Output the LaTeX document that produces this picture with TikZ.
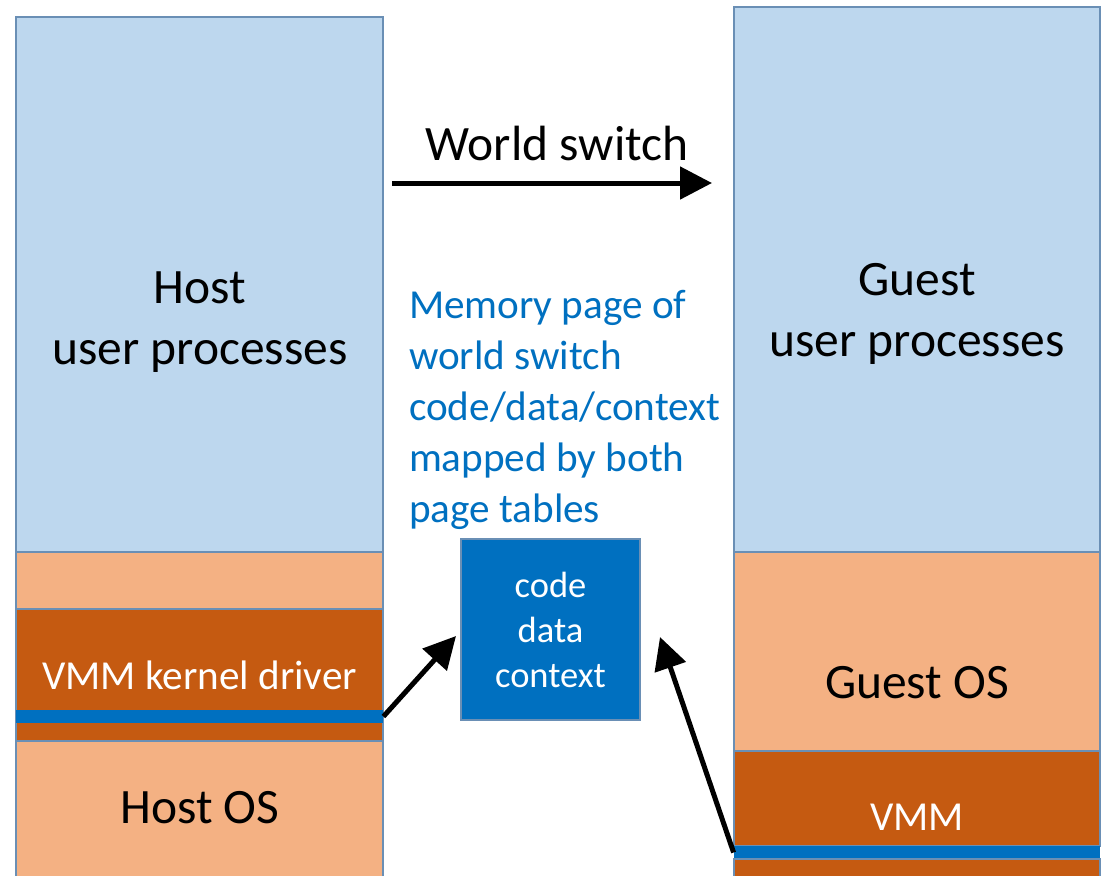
\documentclass[tikz,border=0pt]{standalone}
\usepackage{fontspec}
\setmainfont{Carlito}
\usetikzlibrary{arrows.meta}

\definecolor{userblue}{HTML}{BDD7EE}
\definecolor{osorange}{HTML}{F4B183}
\definecolor{vmmorange}{HTML}{C55A11}
\definecolor{pageblue}{HTML}{0070C0}
\definecolor{edgeblue}{HTML}{6A8FB5}

\begin{document}
\begin{tikzpicture}[x=0.5pt, y=-0.5pt,
	layer/.style={draw=edgeblue, line width=0.6pt, inner sep=0pt, minimum width=183.5pt},
	stripe/.style={fill=pageblue, inner sep=0pt, minimum width=183.5pt, minimum height=6.5pt},
	big text/.style={font=\fontsize{24.75pt}{30.5pt}\selectfont, align=center},
	white text/.style={text=white, font=\fontsize{20.6pt}{25pt}\selectfont},
	switch arrow/.style={line width=2.5pt, -{Triangle[length=16pt,width=16pt]}}]
	
	\useasboundingbox (0,0) rectangle (1102,875);
	
	% host side
	\node[layer, fill=userblue, minimum height=267.5pt] (hostuser) at (199.5,284.5) {};
	\node[layer, fill=osorange, minimum height=28.5pt] (hostgap) at (199.5,580.5) {};
	\node[layer, fill=vmmorange, minimum height=66pt, white text] (vmmdrv) at (199.5,675) {VMM kernel driver};
	\node[stripe] (hoststripe) at (199.5,716.5) {};
	\node[layer, fill=osorange, minimum height=74.5pt] (hostos) at (199.5,815.5) {};
	
	\node[big text] (hostuserlabel) at (200,322) {Host\\user processes};
	\node[big text] (hostoslabel) at (200,808) {Host OS};
	
	% guest side
	\node[layer, fill=userblue, minimum width=183pt, minimum height=272.5pt] (guestuser) at (917,279.5) {};
	\node[layer, fill=osorange, minimum width=183pt, minimum height=99.5pt] (guestos) at (917,651.5) {};
	\node[layer, fill=vmmorange, minimum width=183pt, minimum height=47.5pt] (vmm) at (917,798.5) {};
	\node[stripe, minimum width=183pt] (gueststripe) at (917,852.5) {};
	\node[layer, fill=vmmorange, minimum width=183pt, minimum height=15.5pt] (vmmlow) at (917,874.5) {};
	
	\node[big text] (guestuserlabel) at (917,314) {Guest\\user processes};
	\node[big text] (guestoslabel) at (917,683) {Guest OS};
	\node[white text] (vmmlabel) at (917,817) {VMM};
	
	% shared page
	\node[fill=pageblue, draw=edgeblue, line width=0.6pt, minimum width=89.5pt, minimum height=90.5pt,
		inner sep=0pt, align=center, text=white, font=\fontsize{18.25pt}{22.5pt}\selectfont] (page) at (550.5,629.5) {code\\data\\context};
	
	\node[anchor=west, align=left, text=pageblue, font=\fontsize{20.6pt}{25.5pt}\selectfont] (pagenote) at (402,410)
		{Memory page of\\world switch\\code/data/context\\mapped by both\\page tables};
	
	\node[big text] (switchlabel) at (557,143) {World switch};
	\coordinate (switchstart) at (392,183);
	\coordinate (switchend) at (712,183);
	\coordinate (drvtip) at (456,636);
	\coordinate (vmmtip) at (660,637);
	
	\draw[switch arrow] (switchstart) -- (switchend);
	\draw[switch arrow] (hoststripe.east) -- (drvtip);
	\draw[switch arrow] (gueststripe.west) -- (vmmtip);
	
\end{tikzpicture}
\end{document}
